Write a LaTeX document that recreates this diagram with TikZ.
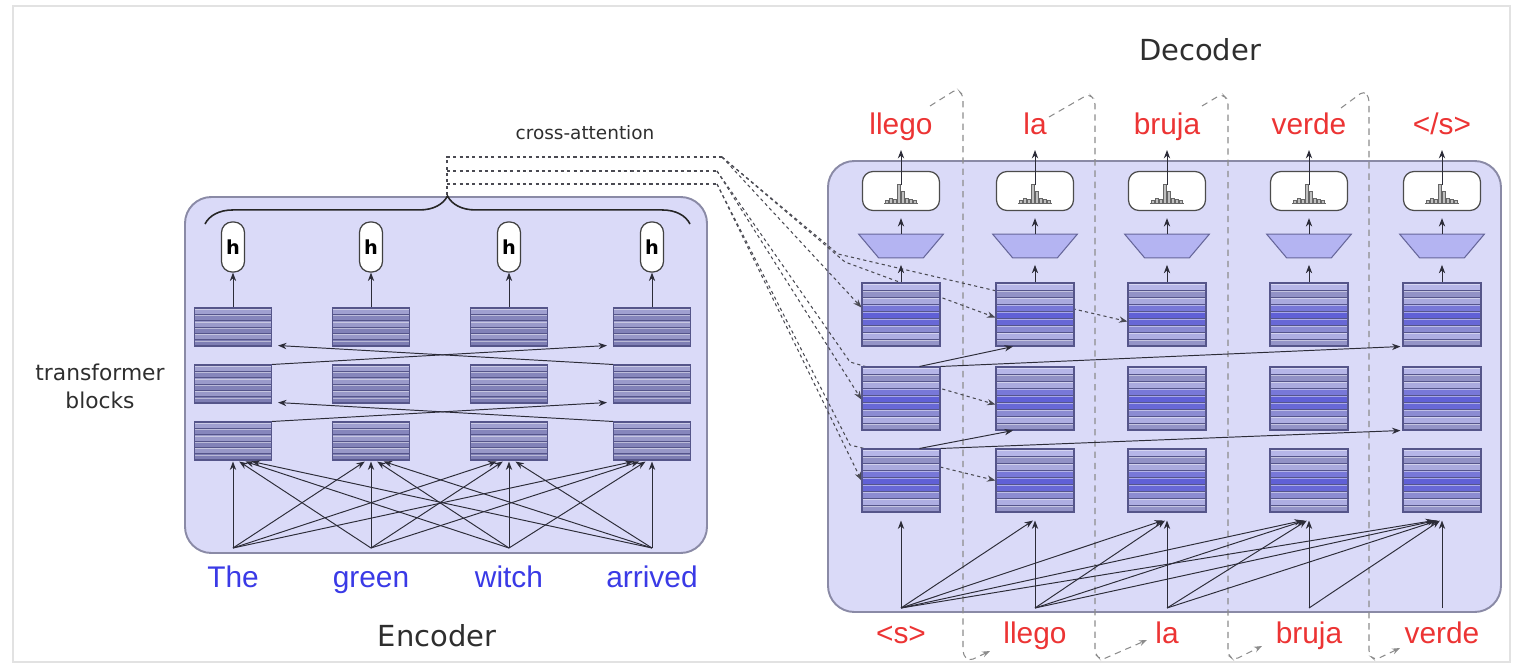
\documentclass[tikz,border=0pt]{standalone}
\usepackage{fontspec}
\usetikzlibrary{arrows.meta,calc,decorations.pathreplacing}
\newfontfamily\labfont{DejaVu Sans}
\newfontfamily\wordfont{Liberation Sans}
\newdimen\px
\px=0.02cm
\pgfdeclarelayer{bg}
\pgfsetlayers{bg,main}

\definecolor{panelfill}{HTML}{DADAF8}
\definecolor{panelline}{HTML}{8A8AA6}
\definecolor{wire}{HTML}{2C2C38}
\definecolor{xgray}{HTML}{4A4A52}
\definecolor{sepgray}{HTML}{8C8C8C}
\definecolor{stripeline}{HTML}{55558A}
\definecolor{trapfill}{HTML}{B4B4F2}
\definecolor{trapline}{HTML}{66669A}
\definecolor{enctext}{HTML}{3A3AE6}
\definecolor{dectext}{HTML}{EC3434}
\definecolor{labtext}{HTML}{2E2E2E}
\definecolor{framegray}{HTML}{E2E2E2}
% encoder block bands
\definecolor{EA}{HTML}{A0A0D0}
\definecolor{EB}{HTML}{8686BC}
\definecolor{EC}{HTML}{9A9ACA}
\definecolor{ED}{HTML}{8282B8}
\definecolor{EE}{HTML}{9898C8}
\definecolor{EF}{HTML}{7E7EB4}
% decoder block bands
\definecolor{DA}{HTML}{B6B6E8}
\definecolor{DB}{HTML}{9292C6}
\definecolor{DC}{HTML}{AAAADE}
\definecolor{DD}{HTML}{7878D8}
\definecolor{DE}{HTML}{6060D6}
\definecolor{DF}{HTML}{6868D6}
\definecolor{DG}{HTML}{8C8CD2}
\definecolor{DH}{HTML}{AEAEE2}
\definecolor{DI}{HTML}{9494C8}

% horizontal bands filling a block node: #1 = number of bands, #2 = colours
\newcommand\blockstripes[2]{%
  \coordinate (pnw) at (path picture bounding box.north west);
  \coordinate (psw) at (path picture bounding box.south west);
  \coordinate (pne) at (path picture bounding box.north east);
  \coordinate (pse) at (path picture bounding box.south east);
  \foreach \c [count=\i from 0] in {#2} {
    \pgfmathsetmacro\ta{\i/#1}
    \pgfmathsetmacro\tb{(\i+1)/#1}
    \fill[\c] ($(pnw)!\ta!(psw)$) rectangle ($(pne)!\tb!(pse)$);
    \draw[white, opacity=0.45, line width=0.45pt] ($(pnw)!\ta!(psw)+(0,1.3)$) -- ($(pne)!\ta!(pse)+(0,1.3)$);
    \draw[stripeline, line width=0.45pt] ($(pnw)!\ta!(psw)$) -- ($(pne)!\ta!(pse)$);
  }%
}

% small bar chart inside an output box
\newcommand\histogram[1]{%
  \draw[black!60, line width=0.4pt] ($(#1.center)+(-17,12)$) -- ($(#1.center)+(17,12)$);
  \foreach \o/\hb in {-14/3,-10/5,-6/4,-2/19,2/12,6/5,10/4,14/3}
    \draw[black!60, fill=black!25, line width=0.3pt] ($(#1.center)+({\o-1.5},12)$) rectangle ($(#1.center)+({\o+1.5},{12-\hb})$);
}

\begin{document}
\begin{tikzpicture}[x=0.02cm, y=-0.02cm,
  panel/.style={draw=panelline, line width=1.1pt, fill=panelfill, rounded corners=15pt},
  arr/.style={draw=wire, line width=0.55pt, -{Stealth[length=4.8pt,width=3.6pt]}},
  xline/.style={draw=xgray, line width=0.6pt, dash pattern=on 1.8pt off 1.8pt},
  xattn/.style={xline, -{Stealth[length=4.8pt,width=3.6pt]}},
  sepline/.style={draw=sepgray, line width=0.6pt, dash pattern=on 3.6pt off 2.8pt, rounded corners=2.5pt, -{Stealth[length=4.5pt,width=3.4pt]}},
  encblk/.style={rectangle, inner sep=0pt, minimum width=77\px, minimum height=38\px, draw=stripeline, line width=0.6pt,
    path picture={\blockstripes{6}{EA,EB,EC,ED,EE,EF}}},
  decblk/.style={rectangle, inner sep=0pt, minimum width=78\px, minimum height=63\px, draw=stripeline, line width=0.6pt,
    path picture={\blockstripes{9}{DA,DB,DC,DD,DE,DF,DG,DH,DI}}},
  hnode/.style={rectangle, rounded corners=6pt, minimum width=23\px, minimum height=50\px, inner sep=0pt, fill=white,
    draw=black!75, line width=0.7pt, font=\labfont\bfseries\fontsize{11}{12}\selectfont},
  distbox/.style={rectangle, rounded corners=6pt, minimum width=77\px, minimum height=39\px, inner sep=0pt, fill=white,
    draw=black!70, line width=0.7pt},
  trapframe/.style={rectangle, minimum width=84\px, minimum height=23\px, inner sep=0pt},
  trapfacet/.style={fill=trapfill, draw=trapline, line width=0.6pt},
  encword/.style={font=\wordfont\fontsize{17}{20}\selectfont, text=enctext, inner sep=0pt, anchor=base},
  decword/.style={font=\wordfont\fontsize{17}{20}\selectfont, text=dectext, inner sep=0pt, anchor=base},
  title/.style={font=\labfont\fontsize{16.5}{19}\selectfont, text=labtext},
]
\useasboundingbox (0,0) rectangle (1516,670);

\begin{pgfonlayer}{bg}
\draw[framegray, line width=0.9pt] (13,6) rectangle (1510,662);
% panels
\draw[panel] (185,197) rectangle (707,553);
\draw[panel] (828,161) rectangle (1501,612);
% step separators: output of one step fed to the next step's input
\draw[sepline] (930,106) -- (957,89) -- (963,95) -- (963,655) -- (969,661) -- (990,651);
\draw[sepline] (1049,117) -- (1089,94) -- (1095,100) -- (1095,654) -- (1101,660) -- (1147,640);
\draw[sepline] (1202,106) -- (1222,94) -- (1228,100) -- (1228,655) -- (1234,660) -- (1262,646);
\draw[sepline] (1341,108) -- (1364,91) -- (1369,97) -- (1369,655) -- (1375,660) -- (1400,648);
\end{pgfonlayer}

% encoder blocks and outputs
\foreach \c/\x in {1/233,2/371,3/509,4/652}{
  \node[encblk] (e1\c) at (\x,327) {};
  \node[encblk] (e2\c) at (\x,384) {};
  \node[encblk] (e3\c) at (\x,441) {};
  \node[hnode] (h\c) at (\x,247) {h};
}
\node[encword] (w1) at (233,587) {The};
\node[encword] (w2) at (371,587) {green};
\node[encword] (w3) at (509,587) {witch};
\node[encword] (w4) at (652,587) {arrived};

% brace over the encoder outputs
\draw[decorate, decoration={brace, amplitude=16pt}, line width=0.9pt, draw=black!85] (205,224) -- (690,224);
\coordinate (bt) at (447,195);

% decoder blocks
\foreach \c/\x in {1/901,2/1035,3/1167,4/1309,5/1442}{
  \node[decblk] (d1\c) at (\x,314.5) {};
  \node[decblk] (d2\c) at (\x,398.5) {};
  \node[decblk] (d3\c) at (\x,480.5) {};
}

% cross-attention wiring, kept behind the blocks
\coordinate (cb1) at (447,157);
\coordinate (cb2) at (447,171);
\coordinate (cb3) at (447,184);
\coordinate (ca1) at (722,157);
\coordinate (ca2) at (717,171);
\coordinate (ca3) at (717,184);
\begin{pgfonlayer}{bg}
\draw[xline] (bt) -- (cb1) -- (ca1);
\draw[xline] (cb2) -- (ca2);
\draw[xline] (cb3) -- (ca3);
\draw[xattn] (ca1) -- ($(d11.west)+(0,-7)$);
\draw[xattn] (ca1) -- (845,262) -- ($(d12.west)+(0,3)$);
\draw[xattn] (ca1) -- (838,254) -- ($(d13.west)+(0,7)$);
\draw[xattn] (ca2) -- ($(d21.west)+(0,1)$);
\draw[xattn] (ca2) -- (850,362) -- ($(d22.west)+(0,6)$);
\draw[xattn] (ca3) -- ($(d31.west)+(0,0)$);
\draw[xattn] (ca3) -- (850,445) -- ($(d32.west)+(0,0)$);
\end{pgfonlayer}

% decoder heads: projection trapezoid and output distribution
\foreach \c/\x in {1/901,2/1035,3/1167,4/1309,5/1442}{
  \node[trapframe] (t\c) at (\x,246) {};
  \draw[trapfacet] (t\c.north west) -- (t\c.north east) -- ($(t\c.south east)+(-20,0)$) -- ($(t\c.south west)+(20,0)$) -- cycle;
  \node[distbox] (p\c) at (\x,191) {};
  \histogram{p\c}
}
\node[decword] (o1) at (901,134) {llego};
\node[decword] (o2) at (1035,134) {la};
\node[decword] (o3) at (1167,134) {bruja};
\node[decword] (o4) at (1309,134) {verde};
\node[decword] (o5) at (1442,134) {</s>};

\node[decword] (i1) at (901,643) {<s>};
\node[decword] (i2) at (1035,643) {llego};
\node[decword] (i3) at (1167,643) {la};
\node[decword] (i4) at (1309,643) {bruja};
\node[decword] (i5) at (1442,643) {verde};

% encoder arrows
\foreach \c in {1,...,4} \draw[arr] (e1\c.north) -- (h\c.south);
\draw[arr] (e24.north west) -- ($(e11.south east)+(6,-1)$);
\draw[arr] (e21.north east) -- ($(e14.south west)+(-6,-1)$);
\draw[arr] (e34.north west) -- ($(e21.south east)+(6,-1)$);
\draw[arr] (e31.north east) -- ($(e24.south west)+(-6,-1)$);
\foreach \s/\xs in {1/233,2/371,3/509,4/652}
  \foreach \t/\xt in {1/233,2/371,3/509,4/652}
    \draw[arr] ($(w\s.base)+(0,-39)$) -- ($(e3\t.south)+({0.045*(\xs-\xt)},1)$);

% decoder arrows
\foreach \c in {1,...,5}{
  \draw[arr, shorten >=4pt] (d1\c.north) -- (t\c.south);
  \draw[arr, shorten >=4pt] (t\c.north) -- (p\c.south);
  \draw[arr] ($(p\c.center)+(0,-6)$) -- ($(o\c.base)+(0,16)$);
}
\draw[arr] ($(d21.north west)+(58,0)$) -- ($(d12.south)+(-22,0)$);
\draw[arr] (d21.north east) -- ($(d15.south west)+(-2,0)$);
\draw[arr] ($(d31.north west)+(58,0)$) -- ($(d22.south)+(-22,0)$);
\draw[arr] (d31.north east) -- ($(d25.south west)+(-2,0)$);
\foreach \s/\xs in {1/901,2/1035,3/1167,4/1309,5/1442}
  \foreach \t/\xt in {1/901,2/1035,3/1167,4/1309,5/1442}{
    \ifnum\t<\s\relax\else
      \draw[arr] ($(i\s.base)+(0,-35)$) -- ($(d3\t.south)+({0.015*(\xs-\xt)},8)$);
    \fi
  }

% labels
\node[title] (enc) at (437,636) {Encoder};
\node[title] (dec) at (1200,50) {Decoder};
\node[font=\labfont\fontsize{12.4}{15.9}\selectfont, text=labtext, align=center] (tb) at (100,386) {transformer\\blocks};
\node[font=\labfont\fontsize{10.5}{12}\selectfont, text=labtext] (ca) at (585,133) {cross-attention};
\end{tikzpicture}
\end{document}
